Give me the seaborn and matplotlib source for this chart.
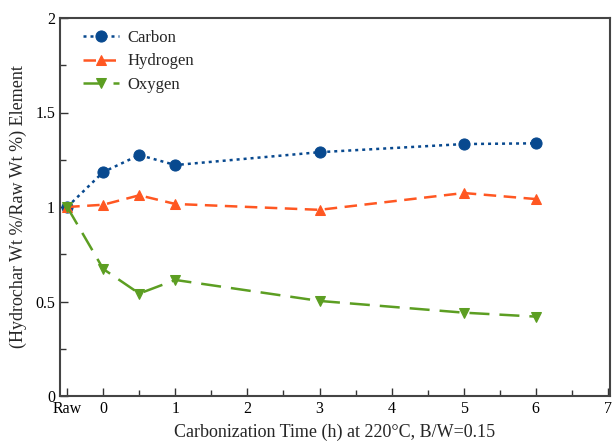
import matplotlib
matplotlib.use("Agg")
import matplotlib.pyplot as plt
from matplotlib.ticker import MultipleLocator, FixedLocator
import seaborn as sns
import pandas as pd

# Carbonization time; the raw biomass is placed at -0.5 on the axis
time_h = [-0.5, 0, 0.5, 1, 3, 5, 6]
carbon = [1.00, 1.185, 1.275, 1.222, 1.290, 1.333, 1.337]
hydrogen = [1.00, 1.012, 1.062, 1.016, 0.985, 1.074, 1.042]
oxygen = [1.00, 0.672, 0.542, 0.614, 0.503, 0.441, 0.420]

x_ticks = [-0.5, 0, 1, 2, 3, 4, 5, 6, 7]
x_tick_labels = ["Raw", "0", "1", "2", "3", "4", "5", "6", "7"]
y_ticks = [0, 0.5, 1, 1.5, 2]
y_tick_labels = ["0", "0.5", "1", "1.5", "2"]

sns.set_theme(style="white")
plt.rcParams["font.family"] = ["Liberation Serif", "DejaVu Serif"]

fig = plt.figure(figsize=(6.13, 4.43), dpi=100)
ax = fig.add_axes([60 / 613, 47 / 443, 550 / 613, 378 / 443])

series = [
    ("Carbon", carbon, "#08498f", "o", (1.2, 1.6), 8),
    ("Hydrogen", hydrogen, "#ff5722", "^", (5, 3), 7),
    ("Oxygen", oxygen, "#5c9e22", "v", (8, 4), 7),
]
handles = []
for name, vals, color, marker, dash, ms in series:
    df = pd.DataFrame({"t": time_h, "v": vals})
    sns.lineplot(data=df, x="t", y="v", ax=ax, color=color, marker=marker,
                 markersize=ms, markeredgecolor=color, linewidth=1.8,
                 dashes=False, legend=False)
    line = ax.lines[-1]
    line.set_dashes(dash)
    line.set_label(name)
    handles.append(line)

ax.set_xlim(-0.6, 7.03)
ax.set_ylim(0, 2)
ax.xaxis.set_major_locator(FixedLocator(x_ticks))
ax.set_xticklabels(x_tick_labels)
ax.xaxis.set_minor_locator(FixedLocator([0.5, 1.5, 2.5, 3.5, 4.5, 5.5, 6.5]))
ax.set_yticks(y_ticks)
ax.set_yticklabels(y_tick_labels)
ax.yaxis.set_minor_locator(MultipleLocator(0.25))

ax.tick_params(which="both", direction="in", colors="#333333", labelcolor="black",
               labelsize=11.5, left=True, bottom=True)
ax.tick_params(which="major", length=6, width=1)
ax.tick_params(which="minor", length=4, width=1)
for sp in ax.spines.values():
    sp.set_color("#444444")
    sp.set_linewidth(1.5)

ax.set_xlabel("Carbonization Time (h) at 220°C, B/W=0.15", fontsize=13, labelpad=5)
ax.set_ylabel("(Hydrochar Wt %/Raw Wt %) Element", fontsize=13, labelpad=6)

ax.legend(handles=handles, loc="upper left", frameon=False, fontsize=12,
          handlelength=2.2, handletextpad=0.5, borderaxespad=0.3,
          labelspacing=0.46, bbox_to_anchor=(0.02, 1.0))

fig.savefig("out.png", dpi=100)
